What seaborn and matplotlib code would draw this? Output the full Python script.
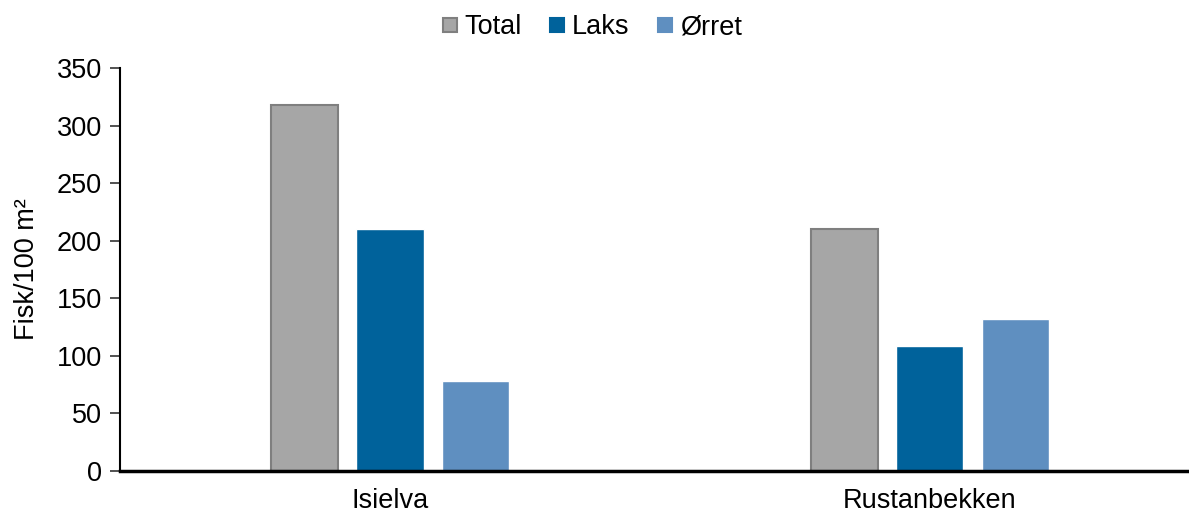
import matplotlib
matplotlib.use("Agg")
import matplotlib.pyplot as plt
import seaborn as sns
import pandas as pd
from matplotlib.lines import Line2D

stations = ["Isielva", "Rustanbekken"]
species = ["Total", "Laks", "Ørret"]
total = [318, 210]
laks = [210, 109]
orret = [78, 132]
colors = {"Total": "#A6A6A6", "Laks": "#00629B", "Ørret": "#5F8FC0"}

rows = []
for i, st in enumerate(stations):
    rows.append((st, "Total", total[i]))
    rows.append((st, "Laks", laks[i]))
    rows.append((st, "Ørret", orret[i]))
df = pd.DataFrame(rows, columns=["stasjon", "art", "tetthet"])

sns.set_style("white")
plt.rcParams["font.family"] = ["Liberation Sans", "DejaVu Sans"]
plt.rcParams["text.color"] = "black"
plt.rcParams["axes.labelcolor"] = "black"
plt.rcParams["xtick.color"] = "black"
plt.rcParams["ytick.color"] = "black"

fig = plt.figure(figsize=(11.89, 5.12), dpi=100)
# axes runs a bit past the right figure edge, like the original
ax = fig.add_axes([0.101, 0.080, 0.908, 0.787])

sns.barplot(data=df, x="stasjon", y="tetthet", hue="art", order=stations,
            hue_order=species, palette=colors, width=0.475, gap=0.215,
            saturation=1, errorbar=None, legend=False, ax=ax)

# grey outline on the total bars only
for bar in ax.containers[0]:
    bar.set_edgecolor("#7F7F7F")
    bar.set_linewidth(1.5)

ax.set_xlim(-0.5, 1.5)
ax.set_ylim(0, 350)
ax.set_yticks(range(0, 351, 50))
ax.set_xlabel("")
ax.set_ylabel("Fisk/100 m²", fontsize=19.5, labelpad=12)
ax.tick_params(axis="y", labelsize=19.5, length=7, width=1.2, color="#333333", left=True, pad=6)
ax.tick_params(axis="x", labelsize=19.5, length=0, pad=12)

for s in ["top", "right"]:
    ax.spines[s].set_visible(False)
ax.spines["left"].set_linewidth(1.5)
ax.spines["left"].set_color("black")
ax.spines["bottom"].set_linewidth(2.5)
ax.spines["bottom"].set_color("black")

handles = [Line2D([], [], marker="s", linestyle="", markersize=10.5,
                  markerfacecolor=colors[s],
                  markeredgecolor="#7F7F7F" if s == "Total" else colors[s],
                  markeredgewidth=1.5) for s in species]
fig.legend(handles, species, loc="center", bbox_to_anchor=(0.497, 0.947), ncol=3,
           frameon=False, fontsize=19.5, handletextpad=0.2, columnspacing=0.95,
           handlelength=0.7)

fig.savefig("out.png", dpi=100)
